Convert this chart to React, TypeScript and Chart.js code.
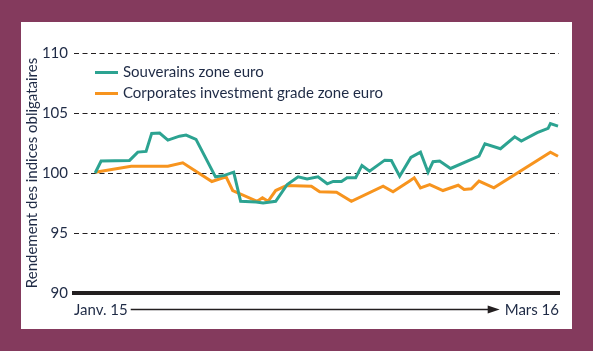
import React, { useEffect, useRef } from "react";
import { Chart, registerables } from "chart.js";

Chart.register(...registerables);

// Tick labels
const xLabels = ["Janv. 15", "Mars 16"];
const yTicks = [90, 95, 100, 105, 110];
const yTitle = "Rendement des indices obligataires";

// Series (x = months since Janv. 15)
const souvLabel = "Souverains zone euro";
const souvMonths = [0, 0.18, 1.04, 1.29, 1.54, 1.71, 1.95, 2.2, 2.55, 2.75, 3.05, 3.64, 3.91, 4.19, 4.4, 4.87, 5.08, 5.46, 5.81, 6.14, 6.41, 6.74, 7.02, 7.2, 7.45, 7.62, 7.88, 8.07, 8.3, 8.76, 8.96, 9.21, 9.55, 9.84, 10.07, 10.22, 10.42, 10.75, 11.61, 11.79, 12.26, 12.69, 12.89, 13.37, 13.7, 13.77, 14.0];
const souvValues = [100.0, 101.0, 101.05, 101.74, 101.8, 103.3, 103.33, 102.74, 103.07, 103.16, 102.8, 99.68, 99.8, 100.07, 97.64, 97.59, 97.5, 97.64, 99.04, 99.68, 99.51, 99.68, 99.1, 99.3, 99.3, 99.6, 99.6, 100.63, 100.15, 101.07, 101.04, 99.73, 101.3, 101.74, 100.07, 100.94, 100.99, 100.38, 101.4, 102.44, 102.02, 103.02, 102.66, 103.36, 103.72, 104.11, 103.91];

const corpLabel = "Corporates investment grade zone euro";
const corpMonths = [0, 1.09, 2.2, 2.65, 3.53, 3.96, 4.16, 4.9, 5.06, 5.23, 5.46, 5.79, 6.54, 6.79, 7.3, 7.75, 8.71, 9.01, 9.5, 9.65, 9.84, 10.12, 10.52, 10.98, 11.16, 11.38, 11.61, 12.06, 13.77, 14.0];
const corpValues = [100.07, 100.57, 100.57, 100.85, 99.29, 99.68, 98.54, 97.64, 97.93, 97.64, 98.54, 98.96, 98.9, 98.43, 98.4, 97.64, 98.9, 98.43, 99.32, 99.6, 98.76, 99.04, 98.54, 98.98, 98.62, 98.68, 99.32, 98.76, 101.74, 101.4];

const X_MIN = -0.64;
const X_MAX = 14.03;

const FONT = "Lato, 'Open Sans', sans-serif";
const TEXT = "#1e2a45";
const TEAL = "#2ca391";
const ORANGE = "#f7941e";
const PURPLE = "#843a5d";

const framePlugin = {
  id: "frame",
  beforeDraw(chart: any) {
    const { ctx, width, height } = chart;
    ctx.save();
    ctx.fillStyle = PURPLE;
    ctx.fillRect(0, 0, width, height);
    ctx.fillStyle = "#ffffff";
    ctx.fillRect(21, 22, 551, 307);
    ctx.restore();
  },
};

const legendPlugin = {
  id: "insideLegend",
  afterDraw(chart: any) {
    const { ctx } = chart;
    ctx.save();
    chart.data.datasets.forEach((ds: any, i: number) => {
      const y = 72.5 + i * 21;
      ctx.strokeStyle = ds.borderColor;
      ctx.lineWidth = 3;
      ctx.beginPath();
      ctx.moveTo(95, y);
      ctx.lineTo(118, y);
      ctx.stroke();
      ctx.fillStyle = TEXT;
      ctx.font = `15px ${FONT}`;
      ctx.textBaseline = "middle";
      ctx.textAlign = "left";
      ctx.fillText(ds.label, 123, y);
    });
    ctx.restore();
  },
};

const arrowPlugin = {
  id: "timeArrow",
  afterDraw(chart: any) {
    const { ctx, chartArea } = chart;
    ctx.save();
    ctx.font = `15px ${FONT}`;
    const w0 = ctx.measureText(xLabels[0]).width;
    const w1 = ctx.measureText(xLabels[1]).width;
    const y = 309.5;
    const x0 = chartArea.left + w0 + 3;
    const x1 = chartArea.right - w1 - 5;
    ctx.strokeStyle = "#231f20";
    ctx.fillStyle = "#231f20";
    ctx.lineWidth = 1.3;
    ctx.beginPath();
    ctx.moveTo(x0, y);
    ctx.lineTo(x1 - 10, y);
    ctx.stroke();
    ctx.beginPath();
    ctx.moveTo(x1, y);
    ctx.lineTo(x1 - 12, y - 4);
    ctx.lineTo(x1 - 12, y + 4);
    ctx.closePath();
    ctx.fill();
    ctx.restore();
  },
};

export default function App() {
  const ref = useRef<HTMLCanvasElement | null>(null);

  useEffect(() => {
    if (!ref.current) return;
    const chart = new Chart(ref.current, {
      type: "line",
      data: {
        datasets: [
          {
            label: souvLabel,
            data: souvMonths.map((m, i) => ({ x: m, y: souvValues[i] })),
            borderColor: TEAL,
            backgroundColor: TEAL,
            borderWidth: 3,
            pointRadius: 0,
            tension: 0,
          },
          {
            label: corpLabel,
            data: corpMonths.map((m, i) => ({ x: m, y: corpValues[i] })),
            borderColor: ORANGE,
            backgroundColor: ORANGE,
            borderWidth: 3,
            pointRadius: 0,
            tension: 0,
          },
        ],
      },
      options: {
        animation: false,
        responsive: false,
        maintainAspectRatio: false,
        devicePixelRatio: 1,
        layout: { padding: { left: 0, top: 53, right: 34, bottom: 0 } },
        plugins: {
          legend: { display: false },
          tooltip: { enabled: false },
        },
        scales: {
          x: {
            type: "linear",
            min: X_MIN,
            max: X_MAX,
            afterBuildTicks: (scale: any) => {
              scale.ticks = [{ value: X_MIN }, { value: X_MAX }];
            },
            afterFit: (scale: any) => {
              scale.height = 58;
            },
            ticks: {
              autoSkip: false,
              maxRotation: 0,
              align: "inner",
              padding: 8,
              color: TEXT,
              font: { family: FONT, size: 15 },
              callback: (_v: any, i: number) => xLabels[i],
            },
            grid: { display: false, drawTicks: false },
            border: { display: true, color: "#231f20", width: 4 },
          },
          y: {
            min: 90,
            max: 110,
            afterBuildTicks: (scale: any) => {
              scale.ticks = yTicks.map((v) => ({ value: v }));
            },
            afterFit: (scale: any) => {
              scale.width = 74;
            },
            ticks: {
              padding: 6,
              color: TEXT,
              font: { family: FONT, size: 15 },
            },
            grid: { color: "#231f20", lineWidth: 1, drawTicks: false },
            border: { display: false, dash: [5, 3.5] },
            title: {
              display: true,
              text: yTitle,
              color: TEXT,
              font: { family: FONT, size: 15 },
              padding: { top: 23, bottom: 0 },
            },
          },
        },
      },
      plugins: [framePlugin, legendPlugin, arrowPlugin],
    });
    return () => chart.destroy();
  }, []);

  return (
    <div style={{ position: "fixed", left: 0, top: 0, width: 593, height: 351 }}>
      <canvas ref={ref} width={593} height={351} style={{ display: "block", width: 593, height: 351 }} />
    </div>
  );
}
